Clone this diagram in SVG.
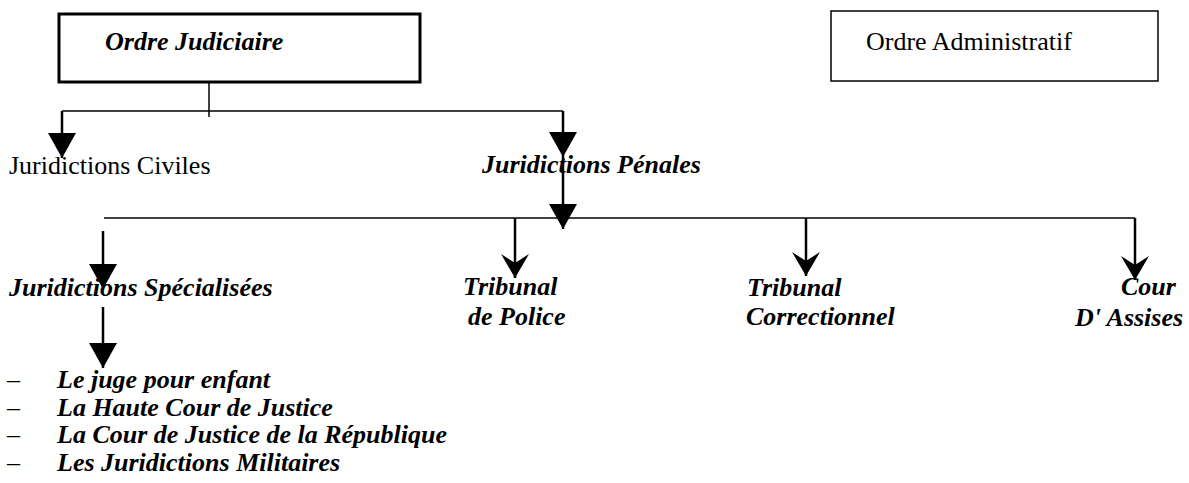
<svg xmlns="http://www.w3.org/2000/svg" width="1189" height="483" viewBox="0 0 1189 483">
<style>
text{font-family:"Liberation Serif","Times New Roman",serif;font-size:26px;fill:#000}
.bi{font-weight:bold;font-style:italic}
.box{fill:#fff;stroke:#000}
.h{fill:none;stroke:#000;stroke-width:1.5}
.v{fill:none;stroke:#000;stroke-width:2.5}
.fa{marker-end:url(#tri)}
.ca{marker-end:url(#chev)}
</style>
<defs>
<marker id="tri" markerUnits="userSpaceOnUse" markerWidth="30" markerHeight="30" refX="25" refY="14" orient="auto" viewBox="0 0 30 30">
<path d="M0,0 L25,14 L0,28 Z" fill="#000"/>
</marker>
<marker id="chev" markerUnits="userSpaceOnUse" markerWidth="30" markerHeight="30" refX="24" refY="14" orient="auto" viewBox="0 0 30 30">
<path d="M0,0 L24,14 L0,28 L9,14 Z" fill="#000"/>
</marker>
</defs>
<g id="connectors">
<path class="h" d="M209,71 V117"/>
<path class="h" d="M62,111 H563"/>
<path class="v fa" d="M62,111 V158"/>
<path class="v fa" d="M563,111 V157"/>
<path class="v fa" d="M563,157 V229"/>
<path class="h" d="M104,218 H1135"/>
<path class="v ca" d="M1135,218 V280"/>
<path class="v ca" d="M515,218 V278"/>
<path class="v ca" d="M806,218 V276"/>
<path class="v fa" d="M103,231 V289"/>
<path class="v fa" d="M103,307 V368"/>
</g>
<g id="ordre-judiciaire">
<rect class="box" x="59" y="14" width="361" height="68" stroke-width="3"/>
<text class="bi" x="105" y="50">Ordre Judiciaire</text>
</g>
<g id="ordre-administratif">
<rect class="box" x="831" y="11" width="327" height="70" stroke-width="1.5"/>
<text x="866" y="50">Ordre Administratif</text>
</g>
<g id="juridictions-civiles">
<text x="9" y="174">Juridictions Civiles</text>
</g>
<g id="juridictions-penales">
<text class="bi" x="482" y="173">Juridictions Pénales</text>
</g>
<g id="juridictions-specialisees">
<text class="bi" x="9" y="296">Juridictions Spécialisées</text>
</g>
<g id="tribunal-police">
<text class="bi"><tspan x="463" y="295">Tribunal</tspan><tspan x="468" y="325">de Police</tspan></text>
</g>
<g id="tribunal-correctionnel">
<text class="bi"><tspan x="747" y="296">Tribunal</tspan><tspan x="746" y="325">Correctionnel</tspan></text>
</g>
<g id="cour-assises">
<text class="bi"><tspan x="1121" y="295">Cour</tspan><tspan x="1075" y="326">D' Assises</tspan></text>
</g>
<g id="liste">
<text x="7" y="388">–</text><text class="bi" x="57" y="388">Le juge pour enfant</text>
<text x="7" y="416">–</text><text class="bi" x="57" y="416">La Haute Cour de Justice</text>
<text x="7" y="443">–</text><text class="bi" x="57" y="443">La Cour de Justice de la République</text>
<text x="7" y="471">–</text><text class="bi" x="57" y="471">Les Juridictions Militaires</text>
</g>
</svg>
